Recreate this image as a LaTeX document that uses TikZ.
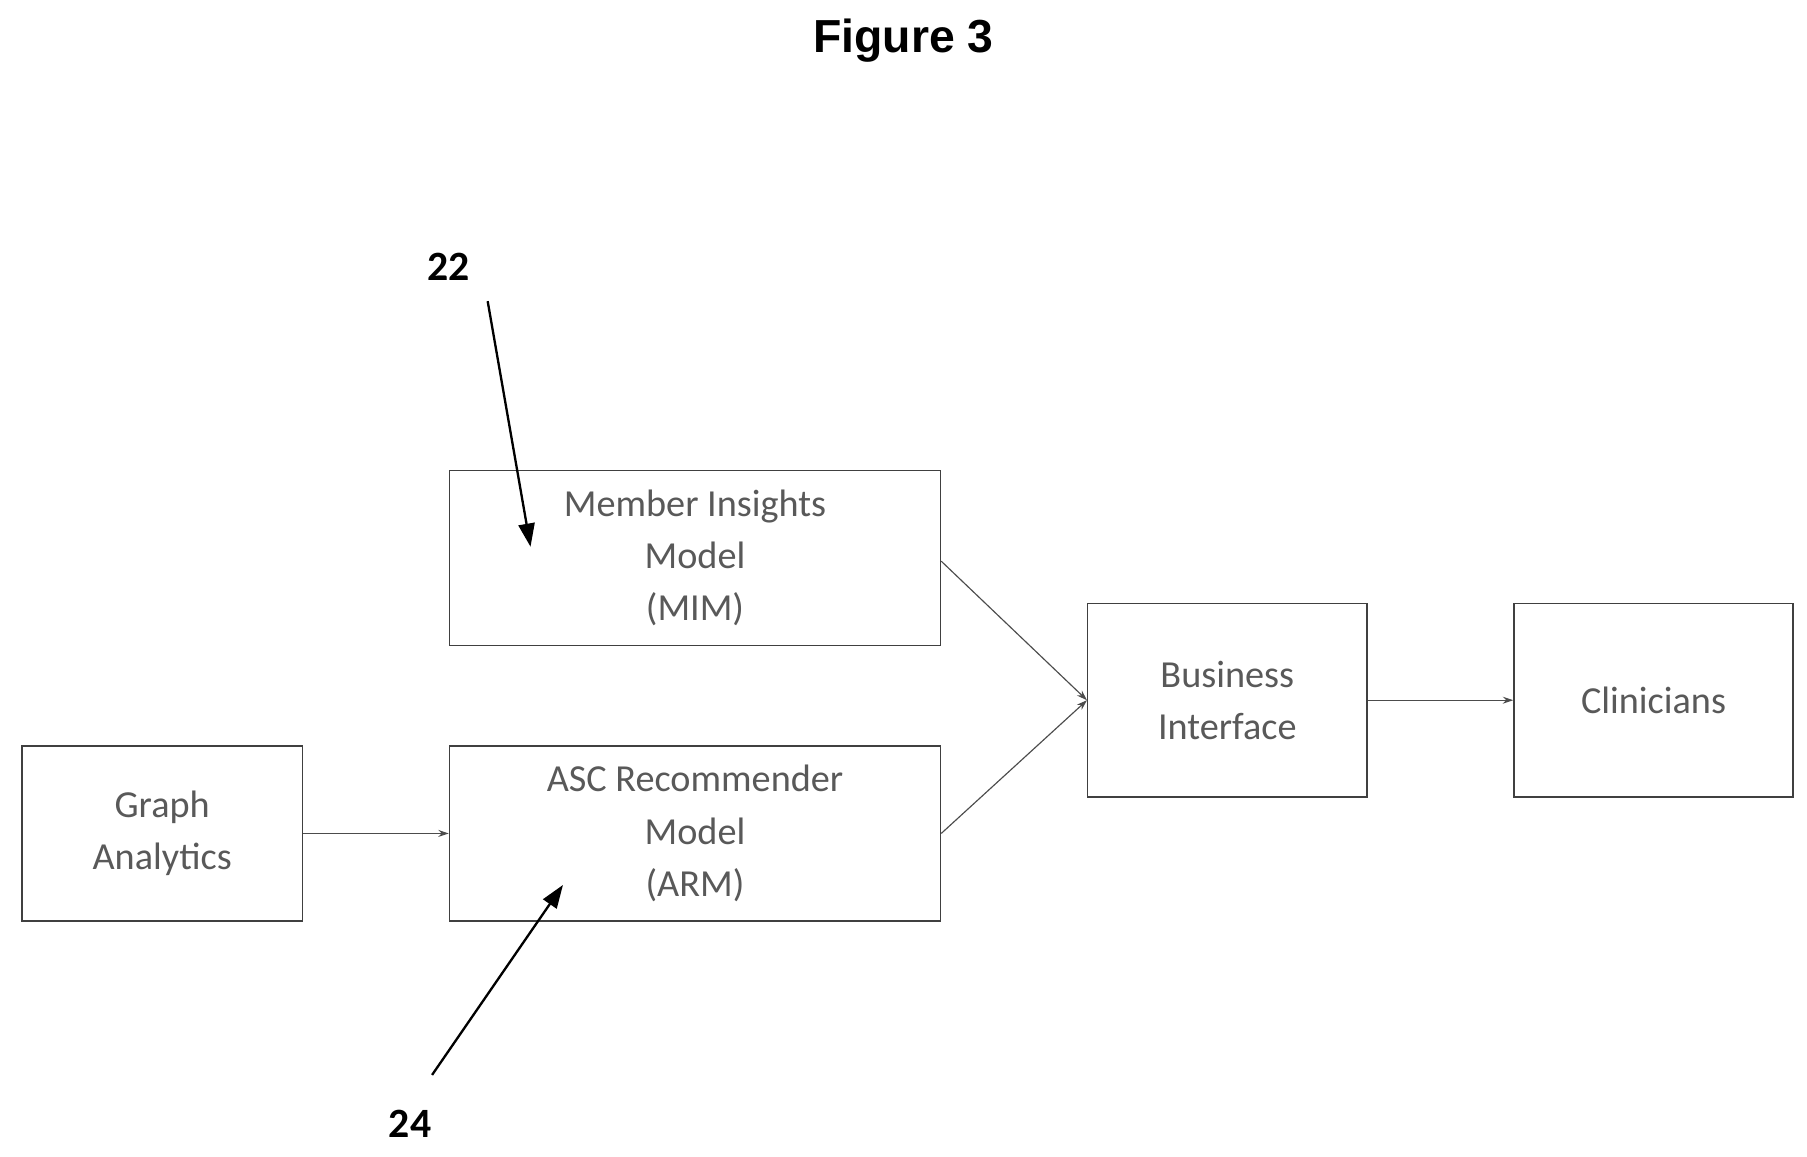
\documentclass[tikz,border=0pt]{standalone}
\usepackage{fontspec}
\setmainfont{Carlito}
\newfontfamily\arialb{Liberation Sans}
\usetikzlibrary{arrows.meta}
\begin{document}
\begin{tikzpicture}[x=1pt,y=-1pt,
  box/.style={draw=black!75,line width=1.2pt,minimum width=#1,inner sep=0pt,align=center,text=black!65,font=\fontsize{33}{45}\selectfont},
  conn/.style={draw=black!70,line width=1pt,-{Stealth[length=9pt,width=6pt]}},
  lbl/.style={font=\fontsize{36}{40}\selectfont\bfseries},
  ptr/.style={line width=2pt,-{Triangle[length=20pt,width=14pt]}}]
\useasboundingbox (0,0) rectangle (1560,998);
\node[font=\arialb\fontsize{40}{44}\selectfont\bfseries] (title) at (780,35) {Figure 3};
\node[box=424pt,minimum height=151pt] (mim) at (600,481.5) {Member Insights\\Model\\(MIM)};
\node[box=424pt,minimum height=151pt] (arm) at (600,719.5) {ASC Recommender\\Model\\(ARM)};
\node[box=242pt,minimum height=151pt] (ga) at (140,719.5) {Graph\\Analytics};
\node[box=241pt,minimum height=167pt] (bi) at (1059.5,604.5) {Business\\Interface};
\node[box=241pt,minimum height=167pt] (cl) at (1427.5,604.5) {Clinicians};
\draw[conn] (mim.east) ++(0,3) -- (bi.west);
\draw[conn] (arm.east) -- (bi.west);
\draw[conn] (ga.east) -- (arm.west);
\draw[conn] (bi.east) -- (cl.west);
\node[lbl] (l22) at (387,230) {22};
\node[lbl] (l24) at (354,970) {24};
\coordinate (p22s) at (421,260);
\coordinate (p22e) at (458,472);
\coordinate (p24s) at (373,928);
\coordinate (p24e) at (486,764);
\draw[ptr] (p22s) -- (p22e);
\draw[ptr] (p24s) -- (p24e);
\end{tikzpicture}
\end{document}
